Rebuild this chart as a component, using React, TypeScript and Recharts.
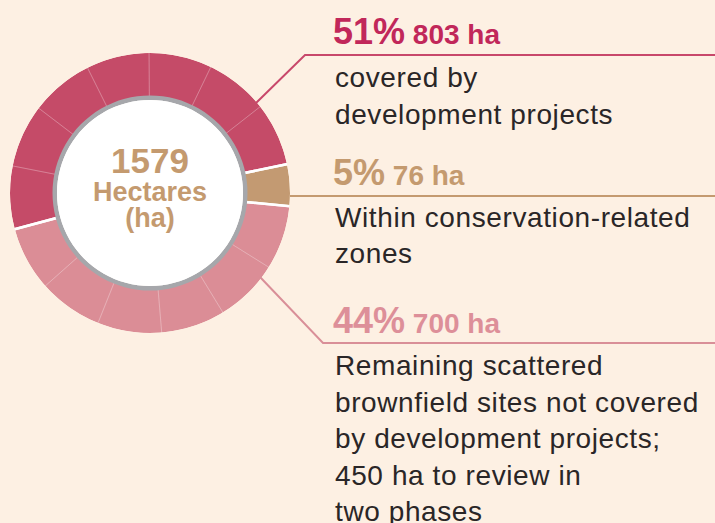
import { PieChart, Pie, Cell } from "recharts";

// land categories, in hectares
const categories = ["covered", "conservation", "remaining"];
const hectares = [803, 76, 700];
const percents = [51, 5, 44];
// how many faint sub-pieces each ring segment is cut into
const pieces = [7, 1, 6];

const ringColors = ["#c54b68", "#c39a72", "#db8d96"];
const textColors = ["#c1275a", "#c49a6f", "#dd8f99"];
const lineColors = ["#c8486b", "#c49a70", "#d98f98"];

const descriptions = [
    ["covered by", "development projects"],
    ["Within conservation-related", "zones"],
    [
        "Remaining scattered",
        "brownfield sites not covered",
        "by development projects;",
        "450 ha to review in",
        "two phases",
    ],
];

const BG = "#fdf0e3";
const CX = 150;
const CY = 193;

const total = hectares.reduce((a, b) => a + b, 0);
const ringData = categories.map((name, i) => ({ name, value: hectares[i] }));
const pieceData = hectares.flatMap((v, i) =>
    Array.from({ length: pieces[i] }, (_, k) => ({ name: `${categories[i]}-${k}`, value: v / pieces[i] }))
);
const one = [{ name: "all", value: 1 }];

const font = "'Liberation Sans', Arial, Helvetica, sans-serif";

export default function App() {
    const start = 195;
    const end = start - 360;

    // header baselines and description start lines
    const heads = [44, 185, 333];
    const bodies = [87, 227, 375];
    const spacing = [37, 36, 36.5];

    return (
        <div style={{ position: "absolute", left: 0, top: 0, width: 715, height: 523, background: BG, overflow: "hidden" }}>
            <div style={{ position: "absolute", left: 0, top: 0 }}>
                <PieChart width={715} height={523} margin={{ top: 0, right: 0, bottom: 0, left: 0 }}>
                    <Pie data={ringData} dataKey="value" cx={CX} cy={CY} innerRadius={96} outerRadius={140}
                        startAngle={start} endAngle={end} stroke="none" isAnimationActive={false}>
                        {ringData.map((d, i) => <Cell key={d.name} fill={ringColors[i]} />)}
                    </Pie>
                    <Pie data={pieceData} dataKey="value" cx={CX} cy={CY} innerRadius={96} outerRadius={141}
                        startAngle={start} endAngle={end} fill="none" stroke="rgba(255,255,255,0.28)"
                        strokeWidth={0.6} isAnimationActive={false} />
                    <Pie data={ringData} dataKey="value" cx={CX} cy={CY} innerRadius={94} outerRadius={142}
                        startAngle={start} endAngle={end} fill="none" stroke="#ffffff" strokeWidth={2.5}
                        isAnimationActive={false} />
                    <Pie data={one} dataKey="value" cx={CX} cy={CY} innerRadius={140} outerRadius={154}
                        startAngle={0} endAngle={360} fill={BG} stroke="none" isAnimationActive={false} />
                    <Pie data={one} dataKey="value" cx={CX} cy={CY} innerRadius={93} outerRadius={97.5}
                        startAngle={0} endAngle={360} fill="#a6a7ab" stroke="none" isAnimationActive={false} />
                    <Pie data={one} dataKey="value" cx={CX} cy={CY} innerRadius={0} outerRadius={93}
                        startAngle={0} endAngle={360} fill="#ffffff" stroke="none" isAnimationActive={false} />
                </PieChart>
            </div>
            <svg width={715} height={523} style={{ position: "absolute", left: 0, top: 0, pointerEvents: "none" }}>
                {/* leader lines */}
                <polyline points="256,103 305,55 715,55" fill="none" stroke={lineColors[0]} strokeWidth={2} />
                <polyline points="290,196 715,196" fill="none" stroke={lineColors[1]} strokeWidth={2} />
                <polyline points="260,277 323,343 715,343" fill="none" stroke={lineColors[2]} strokeWidth={2} />

                {/* centre */}
                <g fontFamily={font} fontWeight="bold" fill="#c49a6f" textAnchor="middle">
                    <text x={CX} y={173} fontSize={35}>{total}</text>
                    <text x={CX} y={201} fontSize={27}>Hectares</text>
                    <text x={CX} y={227} fontSize={27}>(ha)</text>
                </g>

                {categories.map((c, i) => (
                    <g key={c} fontFamily={font}>
                        <text x={333} y={heads[i]} fill={textColors[i]} fontWeight="bold">
                            <tspan fontSize={36}>{percents[i]}%</tspan>
                            <tspan fontSize={28}> {hectares[i]} ha</tspan>
                        </text>
                        {descriptions[i].map((line, k) => (
                            <text key={k} x={335} y={bodies[i] + k * spacing[i]} fontSize={28}
                                letterSpacing={0.6} fill="#2a2627">
                                {line}
                            </text>
                        ))}
                    </g>
                ))}
            </svg>
        </div>
    );
}
